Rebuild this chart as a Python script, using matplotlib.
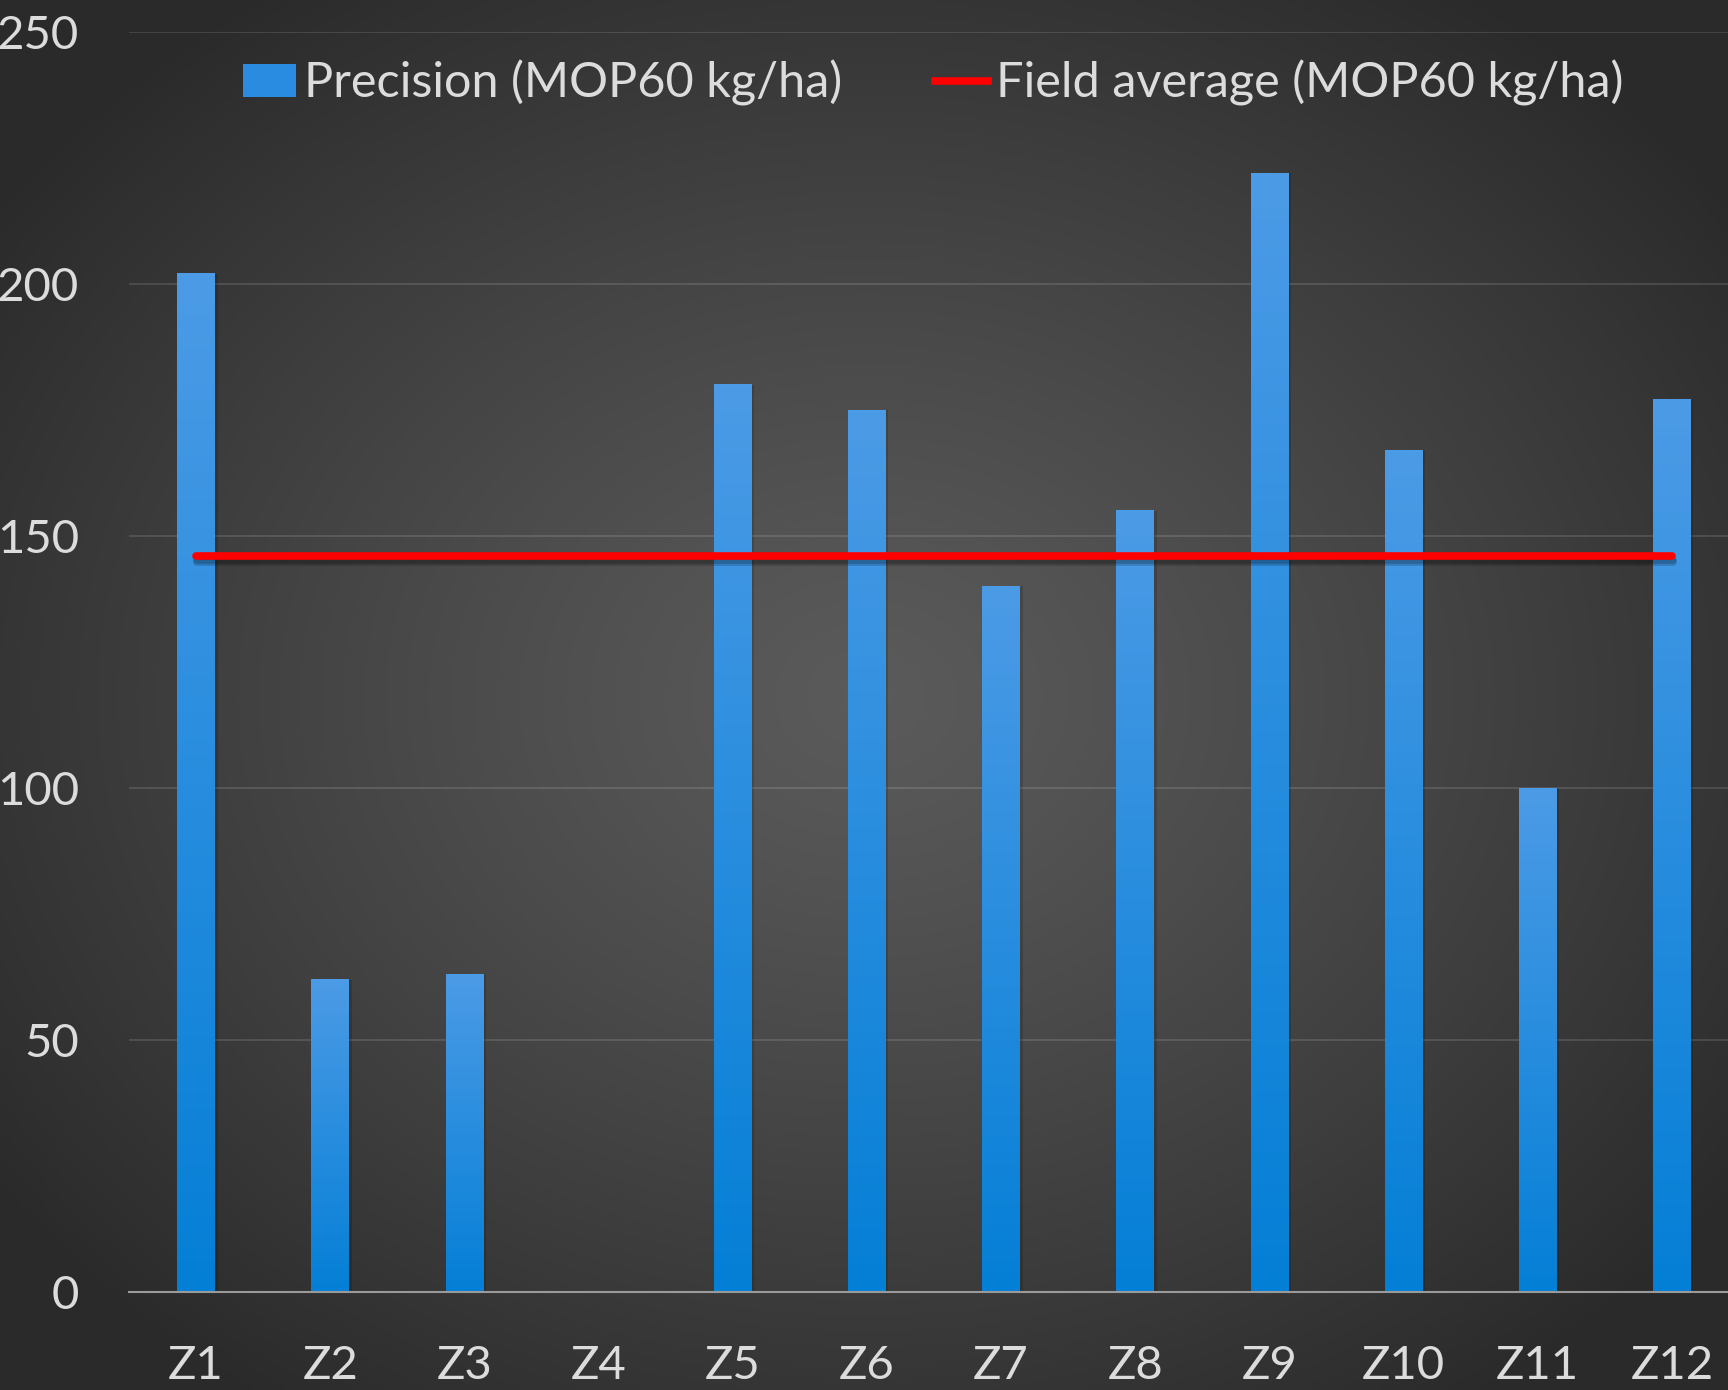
import numpy as np
import matplotlib
matplotlib.use("Agg")
import matplotlib.pyplot as plt
from matplotlib import patheffects as pe
from matplotlib.patches import Patch
from matplotlib.lines import Line2D

zones = ["Z1", "Z2", "Z3", "Z4", "Z5", "Z6", "Z7", "Z8", "Z9", "Z10", "Z11", "Z12"]
precision = [202, 62, 63, 0, 180, 175, 140, 155, 222, 167, 100, 177]
field_average = [146] * 12
y_ticks = [0, 50, 100, 150, 200, 250]

plt.rcParams['font.family'] = ['Lato', 'DejaVu Sans']
txt_color = '#dcdcdc'

fig = plt.figure(figsize=(17.28, 13.9), dpi=100)

# radial background
bg = fig.add_axes([0, 0, 1, 1], zorder=-10)
H, W = 278, 346
yy, xx = np.mgrid[0:H, 0:W]
cx, cy = W * 0.50, H * 0.50
d = np.sqrt(((xx - cx) / (W * 0.62)) ** 2 + ((yy - cy) / (H * 0.62)) ** 2)
d = np.clip(d, 0, 1)
c_center, c_edge = 0.355, 0.165
img = c_center + (c_edge - c_center) * d ** 1.2
bg.imshow(np.dstack([img, img, img]), aspect='auto', extent=[0, 1, 0, 1], interpolation='bicubic')
bg.set_axis_off()

ax = fig.add_axes([129 / 1728, 98 / 1390, 1610 / 1728, 1260 / 1390])
ax.patch.set_alpha(0)
x = np.arange(len(zones))
bars = ax.bar(x, precision, width=0.28, color='none', zorder=3)

grad = np.linspace(0, 1, 256).reshape(-1, 1)
top = np.array([76, 155, 230]) / 255
bot = np.array([4, 127, 214]) / 255
grad_rgb = (bot[None, None, :] * (1 - grad[..., None]) + top[None, None, :] * grad[..., None])
for b in bars:
    h = b.get_height()
    if h <= 0:
        continue
    x0, w = b.get_x(), b.get_width()
    ax.bar(x0 + w / 2 + 0.02, h, width=w, bottom=0, color='black', alpha=0.15, zorder=2.5)
    ax.imshow(grad_rgb, extent=[x0, x0 + w, 0, h], origin='lower', aspect='auto', zorder=3)

ax.plot(x, field_average, color='#ff0000', lw=5.5, solid_capstyle='round', zorder=5,
        path_effects=[pe.SimpleLineShadow(offset=(1, -4), alpha=0.18, shadow_color='black'),
                      pe.SimpleLineShadow(offset=(1, -2.5), alpha=0.18, shadow_color='black'),
                      pe.Normal()])

ax.set_xlim(-0.5, len(zones) - 0.5)
ax.set_ylim(0, 250)
ax.set_yticks(y_ticks)
ax.set_xticks(x)
ax.set_xticklabels(zones)
ax.grid(axis='y', color='white', alpha=0.12, lw=1.5, zorder=0)
ax.set_axisbelow(True)
for s in ['top', 'right', 'left']:
    ax.spines[s].set_visible(False)
ax.spines['bottom'].set_color('#9a9a9a')
ax.spines['bottom'].set_linewidth(1.5)
ax.spines['bottom'].set_zorder(6)
ax.tick_params(axis='both', length=0, labelsize=34, labelcolor=txt_color)
ax.tick_params(axis='y', pad=36)
ax.tick_params(axis='x', pad=38)

handles = [Patch(facecolor='#2a8ce0', edgecolor='none'),
           Line2D([0], [0], color='#ff0000', lw=5.5)]
leg = ax.legend(handles, ['Precision (MOP60 kg/ha)', 'Field average (MOP60 kg/ha)'],
                loc='center', bbox_to_anchor=(0.4994, 1 - 51 / 1260),
                ncol=2, frameon=False, fontsize=35, labelcolor=txt_color,
                handlelength=1.1, handleheight=0.64, handletextpad=0.16, columnspacing=1.9)

fig.savefig('out.png', dpi=100)
